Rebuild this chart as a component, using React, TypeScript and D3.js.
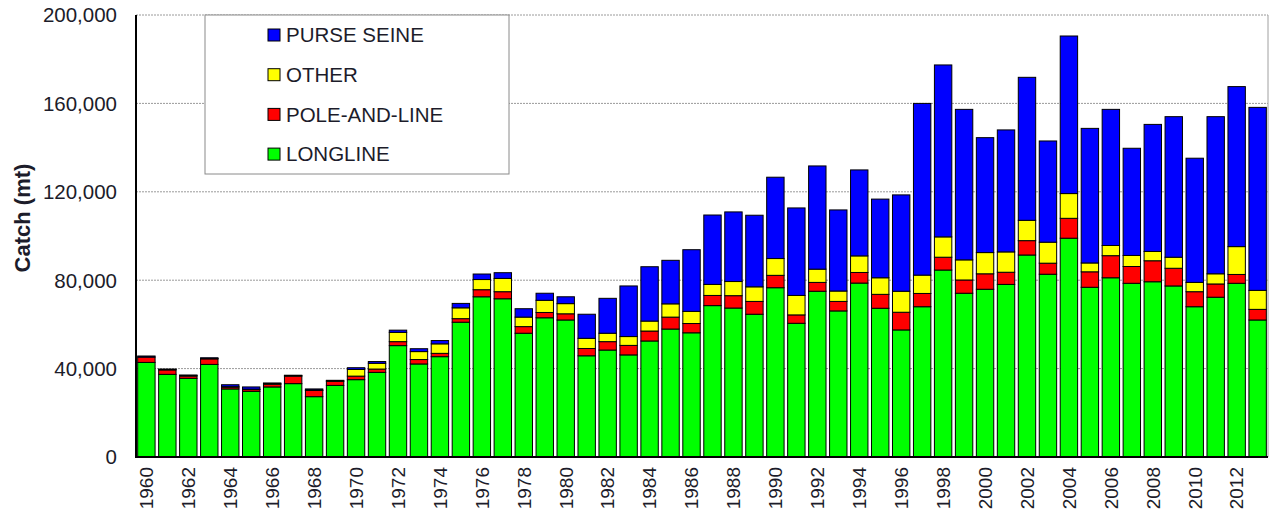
import React from "react";
import * as d3 from "d3";

const years = d3.range(1960, 2014).map(String);

const longline = [
  42.8, 37.4, 35.6, 41.9, 30.8, 29.7, 31.7, 33.2, 27.3, 32.4,
  35.0, 38.3, 50.4, 42.1, 45.4, 61.0, 72.5, 71.6, 56.0, 63.0,
  62.0, 45.8, 48.4, 46.2, 52.5, 57.9, 56.2, 68.5, 67.4, 64.6,
  76.6, 60.5, 75.0, 66.1, 78.7, 67.3, 57.5, 68.0, 84.6, 74.1,
  75.9, 78.1, 91.4, 82.7, 99.0, 76.8, 81.1, 78.6, 79.3, 77.4,
  68.0, 72.3, 78.6, 62.0,
];
const poleAndLine = [
  2.4, 2.0, 1.0, 2.5, 0.8, 0.8, 1.2, 3.4, 2.8, 1.8,
  1.6, 1.5, 1.8, 2.0, 1.5, 1.6, 3.2, 3.2, 3.0, 2.4,
  2.8, 3.3, 3.8, 4.3, 4.5, 5.4, 4.2, 4.6, 5.6, 5.8,
  5.6, 3.8, 4.0, 4.3, 4.8, 6.3, 8.0, 6.0, 5.8, 6.0,
  7.0, 5.5, 6.5, 5.0, 9.0, 7.0, 10.0, 7.6, 9.5, 8.0,
  6.8, 6.0, 4.0, 4.8,
];
const other = [
  0.0, 0.2, 0.3, 0.2, 0.2, 0.2, 0.3, 0.2, 0.2, 0.3,
  3.0, 2.6, 4.2, 3.6, 4.3, 4.9, 4.6, 6.0, 4.3, 5.5,
  4.6, 4.6, 3.8, 4.0, 4.5, 6.0, 5.5, 5.0, 6.4, 6.6,
  7.6, 8.8, 6.0, 4.7, 7.5, 7.5, 9.5, 8.3, 9.2, 9.1,
  9.6, 9.2, 9.2, 9.5, 11.2, 4.0, 4.6, 5.0, 4.2, 5.0,
  4.2, 4.6, 12.6, 8.6,
];
const purseSeine = [
  0.5, 0.2, 0.2, 0.3, 0.9, 1.0, 0.3, 0.2, 0.5, 0.2,
  0.8, 0.8, 1.0, 1.3, 1.5, 2.0, 2.5, 2.6, 3.8, 3.2,
  3.1, 10.9, 15.8, 22.9, 24.6, 19.7, 27.9, 31.4, 31.5, 32.4,
  36.8, 39.6, 46.7, 36.7, 38.9, 35.6, 43.6, 77.7, 77.8, 68.1,
  52.0, 55.2, 64.7, 45.8, 71.3, 60.9, 61.6, 48.5, 57.5, 63.6,
  56.2, 71.1, 72.4, 82.8,
];

const seriesNames = ["LONGLINE", "POLE-AND-LINE", "OTHER", "PURSE SEINE"];
const seriesColors = ["#00ff00", "#ff0000", "#ffff00", "#0000ff"];
const yTicks = [0, 40000, 80000, 120000, 160000, 200000];

const W = 1270;
const H = 513;
const left = 136;
const right = 1268;
const top = 15;
const bottom = 457;
const FONT = "'Liberation Sans', Arial, Helvetica, sans-serif";
const TEXT = "#1c1c2a";

export default function App() {
  const rows = years.map((y, i) => ({
    year: y,
    LONGLINE: longline[i] * 1000,
    "POLE-AND-LINE": poleAndLine[i] * 1000,
    OTHER: other[i] * 1000,
    "PURSE SEINE": purseSeine[i] * 1000,
  }));
  const stack = d3.stack<any>().keys(seriesNames)(rows);
  const x = d3.scaleBand().domain(years).range([left, right]).paddingInner(0.17).paddingOuter(0.08);
  const y = d3.scaleLinear().domain([0, 200000]).range([bottom, top]);
  const fmt = d3.format(",");

  const legendItems = [...seriesNames].reverse();
  const legendColors = [...seriesColors].reverse();

  return (
    <svg width={W} height={H} style={{ position: "absolute", left: 0, top: 0, background: "#fff" }} fontFamily={FONT}>
      {/* grid */}
      {yTicks.filter((t) => t > 0).map((t) => (
        <line key={t} x1={left} x2={right} y1={y(t)} y2={y(t)} stroke="#9a9a9a" strokeWidth={1} strokeDasharray="2,1" />
      ))}
      <line x1={right} x2={right} y1={top} y2={bottom} stroke="#a0a0a0" strokeWidth={1} />
      {/* bars */}
      {stack.map((s, si) => (
        <g key={s.key} fill={seriesColors[si]}>
          {s.map((d, i) => {
            const h = y(d[0]) - y(d[1]);
            if (h <= 0) return null;
            return (
              <rect key={i} x={x(years[i])} y={y(d[1])} width={x.bandwidth()} height={h} stroke="#000" strokeWidth={1} />
            );
          })}
        </g>
      ))}
      {/* axes */}
      <line x1={left} x2={left} y1={top} y2={bottom} stroke="#000" strokeWidth={2} />
      <line x1={left - 1} x2={right} y1={bottom} y2={bottom} stroke="#000" strokeWidth={2} />
      {yTicks.map((t) => (
        <text key={t} x={117} y={y(t)} dy="0.36em" textAnchor="end" fontSize={20.5} fill={TEXT}>
          {fmt(t)}
        </text>
      ))}
      <text transform={`translate(22,218) rotate(-90)`} textAnchor="middle" dy="0.36em" fontSize={22} fontWeight="bold" fill={TEXT}>
        Catch (mt)
      </text>
      {years.map((yr, i) =>
        i % 2 === 0 ? (
          <text
            key={yr}
            transform={`translate(${(x(yr) as number) + x.bandwidth() / 2},467) rotate(-90)`}
            textAnchor="end"
            dy="0.36em"
            fontSize={19}
            fill={TEXT}
          >
            {yr}
          </text>
        ) : null
      )}
      {/* legend */}
      <rect x={205} y={15} width={304} height={159} fill="#fff" stroke="#8a8a8a" strokeWidth={1} />
      {legendItems.map((name, i) => (
        <g key={name} transform={`translate(268,${35 + i * 39.7})`}>
          <rect x={0} y={-6} width={12} height={12} fill={legendColors[i]} stroke="#000" strokeWidth={1} />
          <text x={18} y={0} dy="0.36em" fontSize={20.5} fill={TEXT}>
            {name}
          </text>
        </g>
      ))}
    </svg>
  );
}
